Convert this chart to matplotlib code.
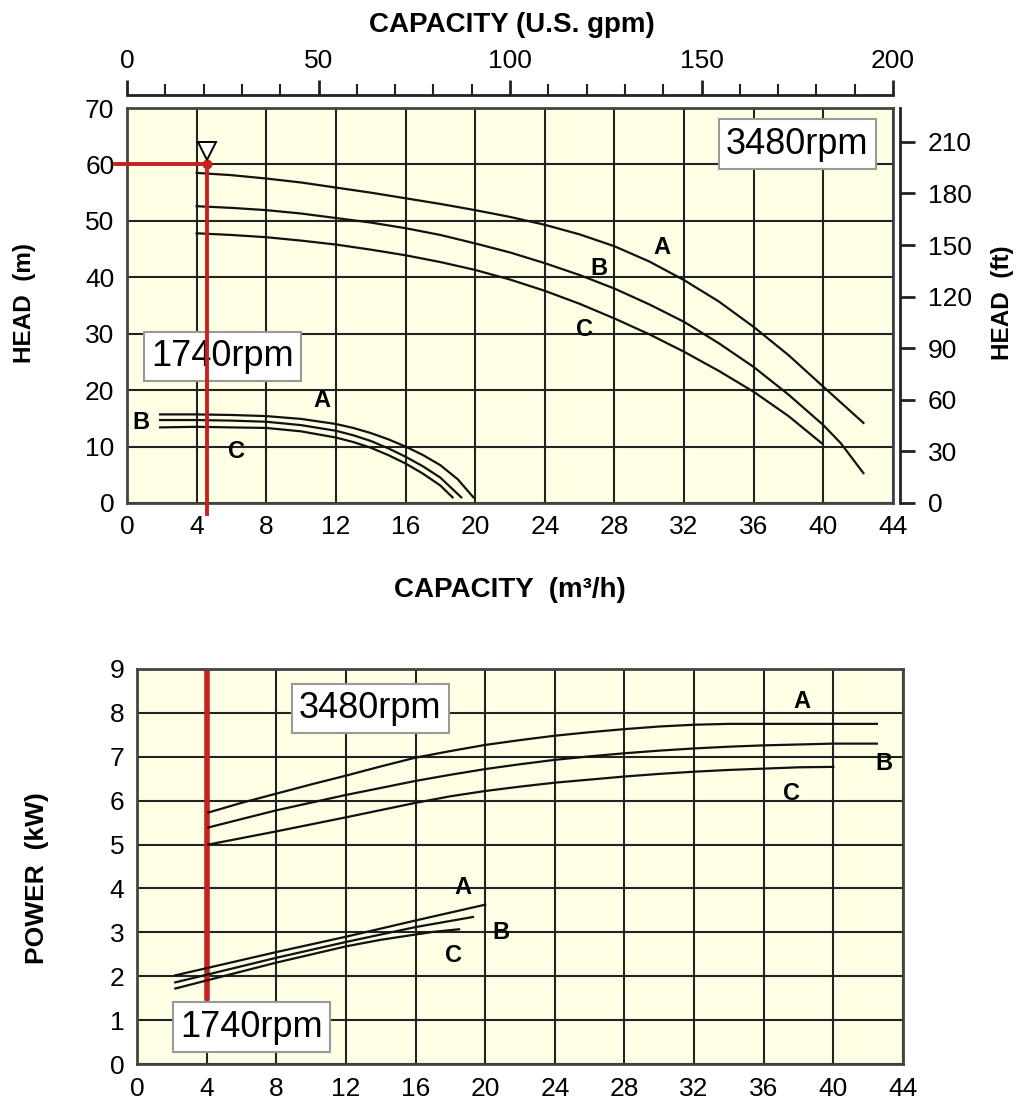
import matplotlib
matplotlib.use("Agg")
import matplotlib.pyplot as plt
from matplotlib.ticker import MultipleLocator

plt.rcParams['font.family'] = ['Liberation Sans', 'DejaVu Sans']

# --- head curves, 3480 rpm (capacity m3/h, head m)
hi_q_a = [4, 6, 8, 10, 12, 14, 16, 18, 20, 22, 24, 26, 28, 30, 32, 34, 36, 38, 40, 42.3]
hi_h_a = [58.5, 58.1, 57.5, 56.8, 55.9, 55.0, 54.0, 53.0, 51.9, 50.7, 49.3, 47.6, 45.5,
          42.8, 39.5, 35.7, 31.2, 26.2, 20.6, 14.2]
hi_q_b = [4, 6, 8, 10, 12, 14, 16, 18, 20, 22, 24, 26, 28, 30, 32, 34, 36, 38, 40, 41, 42.3]
hi_h_b = [52.6, 52.3, 51.9, 51.3, 50.5, 49.7, 48.7, 47.5, 46.0, 44.4, 42.5, 40.4, 38.0,
          35.2, 32.1, 28.3, 24.1, 19.2, 13.8, 10.6, 5.3]
hi_q_c = [4, 6, 8, 10, 12, 14, 16, 18, 20, 22, 24, 26, 28, 30, 32, 34, 36, 38, 39.9]
hi_h_c = [47.8, 47.5, 47.1, 46.5, 45.8, 44.9, 43.9, 42.7, 41.3, 39.6, 37.6, 35.3, 32.7,
          29.9, 26.8, 23.4, 19.7, 15.4, 10.6]

# --- head curves, 1740 rpm
lo_q_a = [1.9, 4, 6, 8, 10, 12, 13, 14, 15, 16, 17, 18, 19, 19.9]
lo_h_a = [15.7, 15.7, 15.6, 15.4, 14.9, 14.0, 13.3, 12.4, 11.3, 10.0, 8.5, 6.7, 4.2, 1.0]
lo_q_b = [1.9, 4, 6, 8, 10, 12, 13, 14, 15, 16, 17, 18, 19.2]
lo_h_b = [14.7, 14.7, 14.6, 14.4, 13.8, 12.8, 12.0, 11.0, 9.7, 8.2, 6.5, 4.5, 1.0]
lo_q_c = [1.9, 4, 6, 8, 10, 12, 13, 14, 15, 16, 17, 18, 18.7]
lo_h_c = [13.4, 13.5, 13.4, 13.3, 12.7, 11.6, 10.8, 9.8, 8.5, 7.0, 5.2, 3.1, 1.0]

# --- power curves, 3480 rpm (kW)
hi_pq_a = [4.1, 6, 8, 10, 12, 14, 16, 18, 20, 22, 24, 26, 28, 30, 32, 34, 36, 40, 42.5]
hi_p_a = [5.73, 5.95, 6.16, 6.37, 6.57, 6.78, 6.98, 7.13, 7.27, 7.38, 7.48, 7.56, 7.63,
          7.69, 7.73, 7.75, 7.75, 7.75, 7.75]
hi_pq_b = [4.1, 8, 12, 16, 18, 20, 22, 24, 26, 28, 30, 32, 34, 36, 38, 40, 42.5]
hi_p_b = [5.39, 5.78, 6.13, 6.45, 6.59, 6.72, 6.83, 6.93, 7.01, 7.08, 7.14, 7.19, 7.23,
          7.26, 7.28, 7.30, 7.30]
hi_pq_c = [4.1, 8, 12, 16, 18, 20, 22, 24, 26, 28, 30, 32, 34, 36, 38, 40]
hi_p_c = [5.0, 5.30, 5.62, 5.95, 6.10, 6.22, 6.32, 6.41, 6.48, 6.55, 6.61, 6.66, 6.70,
          6.73, 6.76, 6.77]

# --- power curves, 1740 rpm
lo_pq_a = [2.2, 8, 12, 16, 20]
lo_p_a = [2.02, 2.55, 2.90, 3.27, 3.63]
lo_pq_b = [2.2, 8, 12, 16, 19.3]
lo_p_b = [1.86, 2.42, 2.78, 3.12, 3.35]
lo_pq_c = [2.2, 8, 12, 14, 16, 17, 18.5]
lo_p_c = [1.72, 2.31, 2.68, 2.83, 2.95, 3.01, 3.07]

# duty point and marker lines
duty_q = 4.6
duty_h = 60
level_h = 62.4
power_q = 4
power_line = [1.5, 9]

x_ticks = list(range(0, 45, 4))
head_ticks = list(range(0, 71, 10))
ft_ticks = list(range(0, 211, 30))
gpm_ticks = list(range(0, 201, 50))
power_ticks = list(range(0, 10))

BG = '#FFFFE6'
GRID = '#222222'
RED = '#C8201E'
W, H = 1030, 1119

fig = plt.figure(figsize=(W / 100, H / 100), dpi=100)


def frame(ax):
    ax.set_facecolor(BG)
    ax.grid(True, color=GRID, lw=1.5)
    ax.set_axisbelow(True)
    for s in ax.spines.values():
        s.set_color('#444')
        s.set_linewidth(2)
    ax.tick_params(length=0, labelsize=19, pad=9)


def rpm_box(ax, x, y, txt):
    ax.text(x, y, txt, fontsize=26, ha='center', va='center', zorder=6,
            bbox=dict(boxstyle='square,pad=0.2', fc='white', ec='#999', lw=1.5))


def letter(ax, x, y, t):
    ax.text(x, y, t, fontsize=17, fontweight='bold', ha='center', va='center', zorder=5)


# ---------------- head chart
ax = fig.add_axes([127 / W, 1 - 503 / H, 766 / W, 395 / H])
frame(ax)
ax.set_xlim(0, 44)
ax.set_ylim(0, 70)
ax.set_xticks(x_ticks)
ax.set_yticks(head_ticks)

for q, h in [(hi_q_a, hi_h_a), (hi_q_b, hi_h_b), (hi_q_c, hi_h_c),
             (lo_q_a, lo_h_a), (lo_q_b, lo_h_b), (lo_q_c, lo_h_c)]:
    ax.plot(q, h, color='#111', lw=1.6, zorder=3)

ax.plot([-0.7, duty_q], [duty_h, duty_h], color=RED, lw=2.8, clip_on=False, zorder=7)
ax.plot([duty_q, duty_q], [duty_h, -2], color=RED, lw=2.8, clip_on=False, zorder=7)
ax.plot([duty_q], [duty_h], 'o', color=RED, ms=6, zorder=8)
ax.plot([duty_q], [level_h], 'v', mfc='white', mec='black', mew=1.4, ms=13, zorder=8)

letter(ax, 30.7, 45.2, 'A')
letter(ax, 27.1, 41.6, 'B')
letter(ax, 26.3, 30.7, 'C')
letter(ax, 11.2, 18.2, 'A')
letter(ax, 0.8, 14.3, 'B')
letter(ax, 6.3, 9.2, 'C')
rpm_box(ax, 38.5, 63.6, '3480rpm')
rpm_box(ax, 5.5, 26.0, '1740rpm')

# top gpm axis
axt = ax.twiny()
axt.set_xlim(0, 200)
axt.set_xticks(gpm_ticks)
axt.xaxis.set_minor_locator(MultipleLocator(10))
for k in ['left', 'right', 'bottom']:
    axt.spines[k].set_visible(False)
axt.spines['top'].set_position(('outward', 9.5))
axt.spines['top'].set_linewidth(2)
axt.spines['top'].set_color('#222')
axt.tick_params(which='major', direction='out', length=11, width=2, labelsize=19, pad=5, color='#222')
axt.tick_params(which='minor', direction='out', length=8, width=1.5, color='#222')

# right ft axis
axr = ax.twinx()
axr.set_ylim(0, 70 / 0.3048)
axr.set_yticks(ft_ticks)
for k in ['left', 'top', 'bottom']:
    axr.spines[k].set_visible(False)
axr.spines['right'].set_position(('outward', 5))
axr.spines['right'].set_linewidth(2)
axr.spines['right'].set_color('#222')
axr.tick_params(direction='out', length=11, width=2, labelsize=19, pad=9, color='#222')

# ---------------- power chart
bx = fig.add_axes([137 / W, 1 - 1064 / H, 766 / W, 395 / H])
frame(bx)
bx.set_xlim(0, 44)
bx.set_ylim(0, 9)
bx.set_xticks(x_ticks)
bx.set_yticks(power_ticks)

for q, p in [(hi_pq_a, hi_p_a), (hi_pq_b, hi_p_b), (hi_pq_c, hi_p_c),
             (lo_pq_a, lo_p_a), (lo_pq_b, lo_p_b), (lo_pq_c, lo_p_c)]:
    bx.plot(q, p, color='#111', lw=1.6, zorder=3)

bx.plot([power_q, power_q], power_line, color=RED, lw=4, zorder=2.5)

letter(bx, 38.2, 8.27, 'A')
letter(bx, 42.9, 6.84, 'B')
letter(bx, 37.6, 6.16, 'C')
letter(bx, 18.7, 4.02, 'A')
letter(bx, 20.9, 3.0, 'B')
letter(bx, 18.2, 2.48, 'C')
rpm_box(bx, 13.4, 8.1, '3480rpm')
rpm_box(bx, 6.6, 0.84, '1740rpm')

# axis titles
lab = dict(fontweight='bold', ha='center', va='center')
fig.text(512 / W, 1 - 25 / H, 'CAPACITY (U.S. gpm)', fontsize=20, **lab)
fig.text(510 / W, 1 - 590 / H, 'CAPACITY  (m\u00b3/h)', fontsize=20, **lab)
fig.text(25 / W, 1 - 303 / H, 'HEAD  (m)', rotation=90, fontsize=17.5, **lab)
fig.text(1003 / W, 1 - 303 / H, 'HEAD  (ft)', rotation=90, fontsize=17.5, **lab)
fig.text(37 / W, 1 - 878 / H, 'POWER  (kW)', rotation=90, fontsize=19, **lab)

fig.savefig('out.png', dpi=100, facecolor='white')
